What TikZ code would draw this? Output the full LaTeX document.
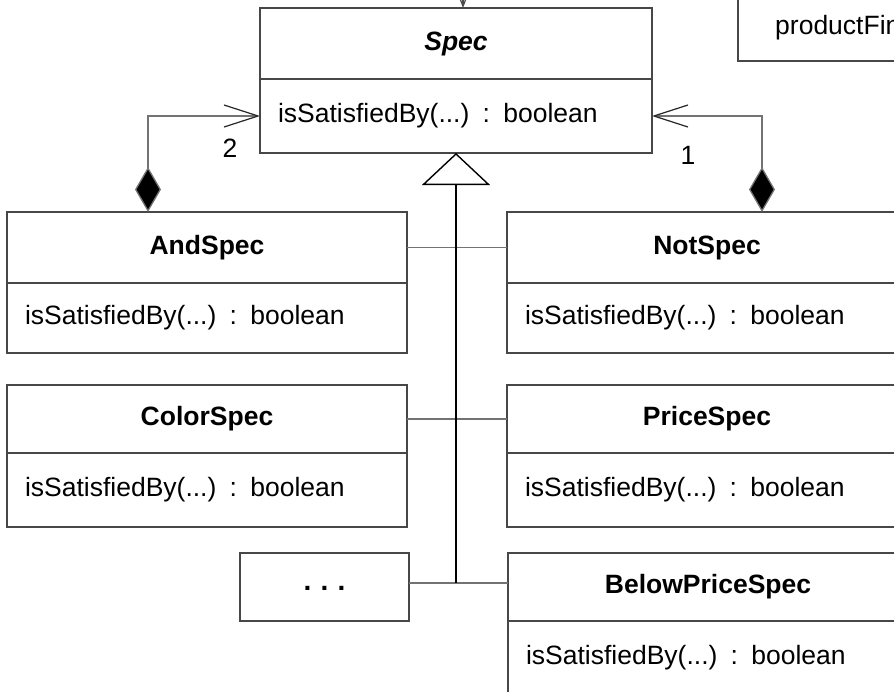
\documentclass[tikz,border=0pt]{standalone}
\usepackage{fontspec}
\setmainfont{Liberation Sans}
\usetikzlibrary{arrows.meta,calc}
\begin{document}
\begin{tikzpicture}[x=1pt,y=-1pt,
  box/.style={draw=black!72, line width=1.3pt, rectangle, inner sep=0pt, outer sep=0pt, anchor=north west, minimum width=400pt},
  ttl/.style={box, minimum height=71pt, font=\fontsize{26.5}{30}\selectfont\bfseries},
  mth/.style={box, minimum height=70pt, text width=364pt, inner xsep=18pt, align=left, font=\fontsize{26.5}{30}\selectfont},
  lbl/.style={font=\fontsize{26.5}{30}\selectfont, inner sep=0pt},
  shade/.style={draw=black!72, line width=2.6pt},
  link/.style={draw=black!55, line width=1.3pt},
  comp/.style={draw=black!55, line width=1.3pt, {Diamond[length=45pt,width=26pt,fill=black]}-{Straight Barb[length=34pt,width=22pt,line width=1.2pt,black!85]}},
  gen/.style={draw=black, line width=1.3pt, -{Triangle[open,length=32pt,width=68pt,line width=1.4pt]}}
]
\useasboundingbox (0,0) rectangle (894,691);
\clip (0,0) rectangle (894,691);

% Spec
\node[ttl, minimum width=392pt, font=\fontsize{26.5}{30}\selectfont\bfseries\itshape] (specT) at (260,8) {Spec};
\node[mth, minimum width=392pt, text width=356pt, minimum height=74pt] (specM) at (specT.south west) {isSatisfiedBy(...) : boolean};
\draw[shade] (specM.south west) -- (specM.south east);

% top-right box
\node[box, minimum width=300pt, minimum height=130pt] (pf) at (738,-69) {};
\draw[shade] (pf.south west) -- (pf.south east);
\node[lbl, anchor=west] (pftext) at (775,28) {productFinder};

% AndSpec
\node[ttl] (andT) at (7,212) {AndSpec};
\node[mth] (andM) at (andT.south west) {isSatisfiedBy(...) : boolean};
\draw[shade] (andM.south west) -- (andM.south east);

% NotSpec
\node[ttl] (notT) at (507,212) {NotSpec};
\node[mth] (notM) at (notT.south west) {isSatisfiedBy(...) : boolean};
\draw[shade] (notM.south west) -- (notM.south east);

% ColorSpec
\node[ttl, minimum height=68pt] (colT) at (7,385) {ColorSpec};
\node[mth, minimum height=74pt] (colM) at (colT.south west) {isSatisfiedBy(...) : boolean};
\draw[shade] (colM.south west) -- (colM.south east);

% PriceSpec
\node[ttl, minimum height=68pt] (priT) at (507,385) {PriceSpec};
\node[mth, minimum height=74pt] (priM) at (priT.south west) {isSatisfiedBy(...) : boolean};
\draw[shade] (priM.south west) -- (priM.south east);

% dots box
\node[box, minimum width=169pt, minimum height=68pt, font=\fontsize{28}{30}\selectfont\bfseries] (dots) at (240,553) {\raisebox{-6pt}{.\,\,.\,\,.}};
\draw[shade] (dots.south west) -- (dots.south east);

% BelowPriceSpec
\node[ttl, minimum height=68pt] (belT) at (508,553) {BelowPriceSpec};
\node[mth, minimum height=74pt] (belM) at (belT.south west) {isSatisfiedBy(...) : boolean};

% connector from above into Spec
\coordinate (pfin) at (463,-60);
\draw[draw=black!70, line width=1.2pt, -{Straight Barb[length=18pt,width=14pt]}] (pfin) -- (pfin |- specT.north);

% compositions
\coordinate (andTop) at ($(andT.north west)+(141,0)$);
\coordinate (notTop) at ($(notT.north west)+(255,0)$);
\draw[comp] (andTop) |- (specM.west);
\draw[comp] (notTop) |- (specM.east);
\node[lbl] (two) at (230,148) {2};
\node[lbl] (one) at (688,155) {1};

% generalization
\coordinate (jn) at ($(dots.east -| specM.south)+(0,-4)$);
\draw[link] (andT.east) -- (notT.west);
\draw[link] (colT.east) -- (priT.west);
\draw[link] (dots.east |- jn) -- (belT.west |- jn);
\draw[gen] (jn) -- (specM.south);
\end{tikzpicture}
\end{document}
